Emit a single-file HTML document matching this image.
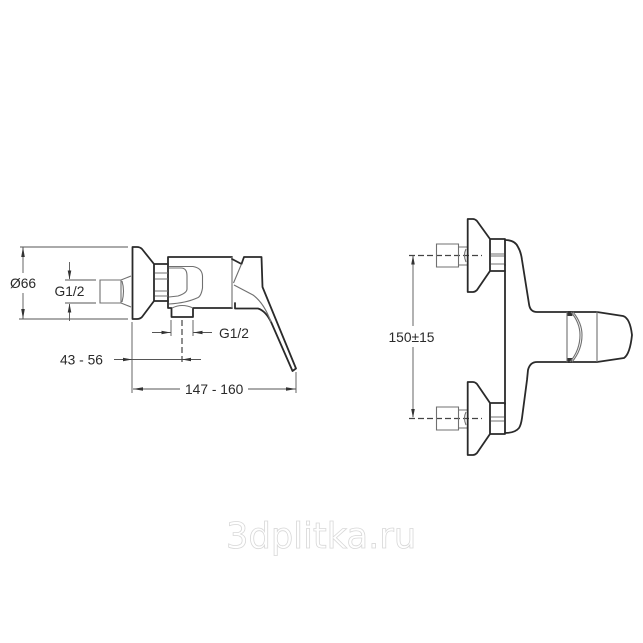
<!DOCTYPE html>
<html>
<head>
<meta charset="utf-8">
<style>
html,body{margin:0;padding:0;background:#fff;width:643px;height:643px;overflow:hidden}
svg{display:block}
text{font-family:"Liberation Sans",sans-serif;font-size:13.8px;fill:#2a2a2a}
.k{fill:none;stroke:#2a2a2a;stroke-width:1.8;stroke-linejoin:round;stroke-linecap:round}
.g{fill:none;stroke:#707070;stroke-width:1.1}
.t{fill:none;stroke:#555;stroke-width:.9}
.d{fill:none;stroke:#444;stroke-width:1.2;stroke-dasharray:6 3}
.a{fill:#333;stroke:none}
.wm{font-family:"DejaVu Sans",sans-serif;font-size:35.3px;fill:#fff;stroke:#d8d8d8;stroke-width:.8}
</style>
</head>
<body>
<svg width="643" height="643" viewBox="0 0 643 643" xmlns="http://www.w3.org/2000/svg">
<!-- LEFT VIEW: dimension lines -->
<path class="t" d="M20 247H128M19 319H128M23 247V273M23 293V319"/>
<path class="a" d="M23 247l-1.800 10h3.600zM23 319l-1.800-10h3.600z"/>
<text x="10" y="288">Ø66</text>
<path class="t" d="M65 280H96M65 303H96M69.500 262V279M69.500 304V321"/>
<path class="a" d="M69.500 279.500l-1.800-9h3.600zM69.500 303.500l-1.800 9h3.600z"/>
<text x="54.500" y="296">G1/2</text>
<text x="60" y="364.500">43 - 56</text>
<path class="t" d="M114 359.500H132M132 322V393M132 359.500H201"/>
<path class="a" d="M132 359.500l-9-1.700v3.400zM182 359.500l9-1.700v3.400z"/>
<path class="t" d="M133 389H180M248 389H296M296 372V393"/>
<path class="a" d="M133 389l10-1.700v3.400zM296 389l-10-1.700v3.400z"/>
<text x="185" y="394">147 - 160</text>
<path class="t" d="M152 332.500H171M193 332.500H212M171 320V336M193 320V336"/>
<path class="a" d="M170.500 332.500l-9-1.700v3.400zM193.500 332.500l9-1.700v3.400z"/>
<path class="d" d="M182 320V364"/>
<text x="219" y="338">G1/2</text>
<!-- LEFT VIEW: faucet -->
<path class="g" d="M100 280H121V303H100ZM121 280L131 276M121 303L131 307M122 281Q125 291 122 302"/>
<path class="k" d="M132.500 247V319M132.500 247H137Q140 247 142 249L154 264H168M132.500 319H137Q140 319 142 317L154 301H168M154 264V301"/>
<path class="k" d="M168 302V257H232M171.500 308V317H193V308M171.500 308H168V302M193 308H232"/>
<path class="g" d="M155 273H168M155 279H168M155 291H168M155 296H168"/>
<path class="g" d="M169 268H181Q187 268 187 276V289Q187 293 178 296L169 297"/>
<path class="g" d="M169 266.500H193Q202 268 202.500 276V288Q201 297 197 298Q186 303 169 304"/>
<path class="g" d="M172 308Q182 303 193 308"/>
<path class="g" d="M232 257V308M235 308V303"/>
<path class="k" d="M232 259L241.500 264L244 257H261.500L262.500 287L296 368.500L292.500 371L271.500 323Q266 311 258 308.500H235V303"/>
<path class="g" d="M233.500 283L241.500 264M234 285L253 295Q264 303 271 322"/>
<!-- RIGHT VIEW: dimensions -->
<path class="d" d="M409 255.500H482M409 418.500H482"/>
<path class="t" d="M413 256V326M413 347V417"/>
<path class="a" d="M413 255.500l-1.800 9h3.600zM413 418l-1.800-9h3.600z"/>
<text x="388.500" y="342">150±15</text>
<!-- RIGHT VIEW: top inlet -->
<path class="g" d="M436.500 244H458.500V267H436.500ZM459 247H467M459 265H467M466 249Q463 255 466 262"/>
<path class="k" d="M467.700 219V292M467.700 219H473Q475 219 477 221L490 239H505M467.700 292H473Q475 292 477 290L490 271H505M490 239V271M505 239V265"/>
<path class="g" d="M491 254H504M491 256H504M491 264H504"/>
<!-- RIGHT VIEW: lower inlet -->
<path class="g" d="M436.500 407H458.500V430H436.500ZM459 410H467M459 428H467M466 412Q463 418 466 425"/>
<path class="k" d="M467.700 382V455M467.700 382H473Q475 382 477 384L490 403H505M467.700 455H473Q475 455 477 453L490 434H505M490 403V434M505 403V434"/>
<path class="g" d="M491 417H504M491 421H504"/>
<!-- RIGHT VIEW: body -->
<path class="k" d="M505 265V404"/>
<path class="k" d="M505 240Q515 240 518 247Q521 252 522 260L529 304Q530 312 537 312H567M505 433Q515 433 519 428Q521 425 522 418L527 380L528 370Q530 362 537 362H567"/>
<path class="k" d="M569 312H597L623 316Q630 318 632 335Q630 354 624 358L597 362H569"/>
<path class="g" d="M567 312V362M597 311V362"/>
<path class="a" d="M567.500 311h4l1 5h-5zM567.500 363h4l1-5h-5z"/>
<path class="g" d="M571 312Q580 323 580 335Q580 350 570 362M573 312Q582 323 582 335Q582 350 572 362"/>
<!-- Watermark -->
<text class="wm" x="226" y="548">3dplitka.ru</text>
</svg>
</body>
</html>
